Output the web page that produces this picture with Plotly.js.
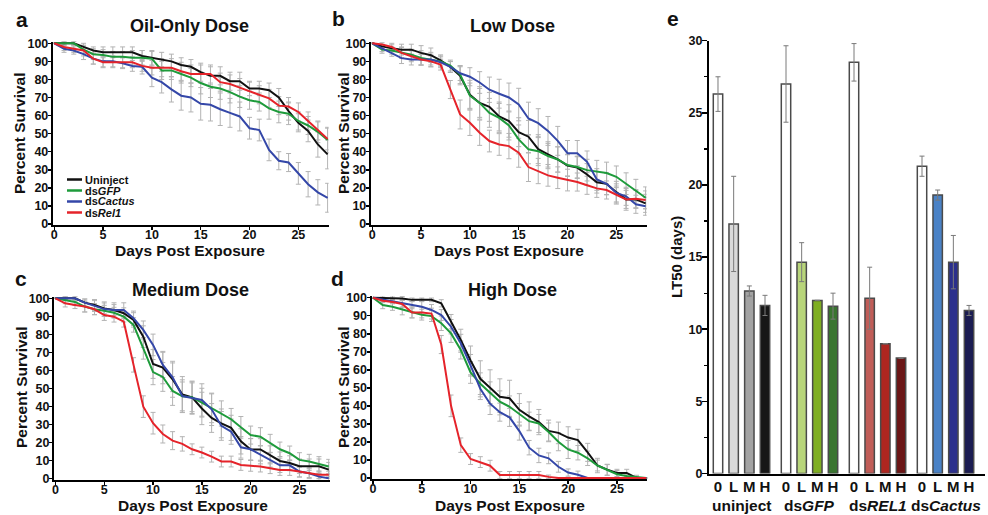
<!DOCTYPE html>
<html>
<head>
<meta charset="utf-8">
<script src="https://cdn.plot.ly/plotly-3.0.1.min.js"></script>
<style>html,body{margin:0;padding:0;background:#fff;}#chart{width:988px;height:515px;}</style>
</head>
<body>
<div id="chart"></div>
<script>
// ---------- DATA ----------
const days = [0,1,2,3,4,5,6,7,8,9,10,11,12,13,14,15,16,17,18,19,20,21,22,23,24,25,26,27,28];
const seriesNames = ['Uninject', 'ds<i>GFP</i>', 'ds<i>Cactus</i>', 'ds<i>Rel1</i>'];

// Panel a: Oil-Only Dose
const a_uninject = [100,100,100,98,96,95,95,95,95,93,92,91,90,88,87,84,82,82,79,79,75,75,74,70,62.5,56,51.5,44,38.5];
const a_gfp      = [100,100,100,96.5,94,93.5,92.5,92.5,92,92,91.5,85,85,83,81,78,76,75,73,70.5,68.5,67.5,64,62,61,57,54.5,51,46.5];
const a_cactus   = [100,97,96,94,91.5,90,90,89,87.5,87,81,78.5,74.5,71,70,66.5,66,63.5,61.5,59.5,53,52,41,35,34,28,22,17.5,14.5];
const a_rel1     = [100,98,97,96,91.5,89.5,89.5,89.5,89.5,87.5,86.5,86.5,86.5,84.5,83,83,83,78.5,77.5,75.5,73.5,71.5,69.5,65.5,65,62,57,51.5,47];
const a_err_uninject = [0,1,1,2,2,3,3,3,3,3,4,4,4,4,4,5,5,5,5,5,4,4,4,5,5,5,6,7,8];
const a_err_gfp      = [0,1,1,2,3,3,3,3,4,4,4,5,5,5,5,6,6,6,6,6,5,5,6,6,6,5,5,6,7];
const a_err_cactus   = [0,2,2,3,3,3,3,3,3,4,5,6,7,8,8,9,9,9,8,8,6,6,6,5,5,6,7,7,8];
const a_err_rel1     = [0,2,2,3,3,3,3,3,3,3,4,5,5,5,5,5,5,5,5,5,5,5,5,5,5,5,5,5,6];

// Panel b: Low Dose
const b_uninject = [100,98.3,97.2,96.5,96.5,94.7,93.4,90.6,86.9,82,71.5,67,64.8,59.5,57,50.8,48.3,41.4,38.5,35.7,32.3,31.2,27.4,23.1,22.2,17.6,13.6,13.6,11.4];
const b_gfp      = [100,96.5,96,95,93.7,91.9,91,90,87.7,82.7,71,67,61.5,58.7,54.5,46.8,41.3,40.3,37.6,35.7,32.6,31.5,29.8,29.2,28.2,26.1,22.3,18.7,14.5];
const b_cactus   = [100,97.4,94.8,91.8,91,91,91,89.5,86.9,83.4,81.5,78.3,74.3,72.1,70,66.1,58.4,55.8,51.5,46,39.2,39.2,34.4,24.6,22.2,17.2,15.3,10.9,9.8];
const b_rel1     = [100,99.3,98,94.7,92.8,91,90,88.2,74.4,60.6,56,50.5,45.9,44,43.1,39.4,31.5,29.3,26.9,25.6,24.3,23.2,21.4,19.7,18.8,16,13.6,14,13.3];
const b_err_uninject = [0,1,2,3,3,4,4,3,3,5,8,9,8,8,9,8,9,8,7,7,6,6,6,6,6,6,6,5,5];
const b_err_gfp      = [0,2,2,3,3,4,4,3,3,5,7,8,8,8,8,8,8,8,7,7,6,6,6,6,6,6,6,6,6];
const b_err_cactus   = [0,2,2,3,3,3,3,3,3,4,5,6,7,8,8,9,9,8,8,8,7,7,6,6,6,5,5,5,5];
const b_err_rel1     = [0,1,2,3,3,3,3,3,5,8,7,7,6,6,7,8,8,7,6,6,6,5,5,5,5,5,5,5,5];

// Panel c: Medium Dose
const c_uninject = [100,100,100,97.6,96.3,94.4,93.5,91.7,88,78.7,63.5,61.5,55,46.5,45,38.8,33.5,30.5,28,20.5,16,16,13,9.6,8.5,6.7,6.7,6.7,4.8];
const c_gfp      = [100,99,98,95.4,93.9,93.1,92,89.8,85.2,72.2,59,56.3,48.5,45.5,45,42,38.9,36,32.8,28.3,24,23.1,19.4,16.1,13.9,10.2,9.3,8,6.5];
const c_cactus   = [100,100,100,97.6,95.7,94,93.5,93.5,88.9,82.4,74.1,63,56.1,45.7,44.6,43.5,38.3,29.1,25.9,17.2,16.1,13,10.2,7.2,7.2,3.7,2.8,0.9,0];
const c_rel1     = [100,97.2,96.3,95.4,93.9,90.7,89.8,87,63,39.8,30.6,24.6,20.9,19.1,16.1,14.3,12,9.3,9.3,7.4,6.9,6.5,5.6,4.6,4.6,3.7,2.4,1.9,1.9];
const c_err_uninject = [0,1,1,2,3,3,3,3,4,6,8,9,10,10,9,9,8,8,7,7,6,6,5,5,4,4,4,4,4];
const c_err_gfp      = [0,2,2,3,3,3,3,3,4,6,7,8,8,8,8,8,8,7,6,6,5,5,5,4,4,4,4,4,4];
const c_err_cactus   = [0,1,1,2,3,4,4,4,4,5,6,7,8,9,9,9,9,8,7,6,6,5,4,4,3,3,3,2,2];
const c_err_rel1     = [0,2,2,3,3,3,3,3,4,6,6,5,5,4,3,3,3,3,3,3,3,3,3,3,3,3,2,2,2];

// Panel d: High Dose
const d_uninject = [100,100,100,99.6,98.8,98.8,98.8,96.9,86.7,76.5,65.2,55,50,45,44.2,37.8,34.2,31,26.1,25,22.4,21,14.2,6.9,4.6,2.8,2.8,0,0];
const d_gfp      = [100,95.9,95,93.5,91.8,90.6,89.8,85.8,80.2,71,58.5,52.3,47.3,42.3,39.5,35.3,31.5,30.2,25.5,20.1,15.8,14,10.9,6.9,4.4,2.1,1.1,0.5,0];
const d_cactus   = [100,99,98.3,96.9,95.9,95,93.2,90.4,83.9,74.7,62.5,49.5,41.2,36.5,33.6,26,16.8,12.5,10.9,6.2,3,1.8,0,0,0,0,0,0,0];
const d_rel1     = [100,98.3,97.6,96.5,91.8,91.8,91.2,74,40,18.2,10.5,8.8,6.8,1.6,1.6,1.6,1.6,1.6,0.6,0,0,0,0,0,0,0,0,0,0];
const d_err_uninject = [0,1,1,1,1,1,1,2,4,6,8,10,10,10,10,9,8,7,6,6,6,6,5,4,3,2,2,1,0];
const d_err_gfp      = [0,2,2,3,3,3,3,4,5,5,6,6,6,6,6,6,5,5,5,5,5,4,4,3,3,2,1,1,0];
const d_err_cactus   = [0,1,1,2,2,3,3,3,4,5,6,6,6,5,5,5,4,4,3,3,2,2,0,0,0,0,0,0,0];
const d_err_rel1     = [0,1,1,2,3,3,3,5,6,4,3,3,3,2,2,2,2,2,1,0,0,0,0,0,0,0,0,0,0];

// Panel e: LT50 (days)
const groups = ['uninject', 'ds<i>GFP</i>', 'ds<i>REL1</i>', 'ds<i>Cactus</i>'];
const doseLevels = ['0', 'L', 'M', 'H'];
const lt50_uninject = [26.3, 17.3, 12.65, 11.65];
const lt50_gfp      = [27.0, 14.65, 12.0, 11.6];
const lt50_rel1     = [28.5, 12.15, 9.0, 8.0];
const lt50_cactus   = [21.3, 19.3, 14.65, 11.3];
const lt50err_uninject = [1.2, 3.3, 0.35, 0.7];
const lt50err_gfp      = [2.65, 1.35, null, 0.9];
const lt50err_rel1     = [1.3, 2.15, null, null];
const lt50err_cactus   = [0.7, 0.35, 1.85, 0.35];

// ---------- STYLE ----------
const FONT = 'Liberation Sans, Arial, Helvetica, sans-serif';
const lineColors = ['#111111', '#1e9b3b', '#3447a8', '#e5232a'];
const errColor = '#b3b3b3';
const barColors = [
  ['#ffffff', '#d9d9d9', '#a3a3a3', '#161616'],
  ['#ffffff', '#b8d57a', '#7fae22', '#3a7530'],
  ['#ffffff', '#c05d58', '#ae2620', '#6b1616'],
  ['#ffffff', '#4a82c6', '#2b2f8c', '#1b1c52']
];

const panels = [
  {id: '', series: [a_uninject, a_gfp, a_cactus, a_rel1], errs: [a_err_uninject, a_err_gfp, a_err_cactus, a_err_rel1]},
  {id: '2', series: [b_uninject, b_gfp, b_cactus, b_rel1], errs: [b_err_uninject, b_err_gfp, b_err_cactus, b_err_rel1]},
  {id: '3', series: [c_uninject, c_gfp, c_cactus, c_rel1], errs: [c_err_uninject, c_err_gfp, c_err_cactus, c_err_rel1]},
  {id: '4', series: [d_uninject, d_gfp, d_cactus, d_rel1], errs: [d_err_uninject, d_err_gfp, d_err_cactus, d_err_rel1]}
];

const traces = [];
panels.forEach(p => {
  // error bars first (behind lines)
  p.series.forEach((s, k) => {
    traces.push({
      type: 'scatter', mode: 'markers', x: days, y: s,
      xaxis: 'x' + p.id, yaxis: 'y' + p.id, showlegend: false, hoverinfo: 'skip',
      marker: {size: 1, opacity: 0},
      error_y: {type: 'data', array: p.errs[k], visible: true, color: errColor, thickness: 1, width: 2.5}
    });
  });
  p.series.forEach((s, k) => {
    traces.push({
      type: 'scatter', mode: 'lines', x: days, y: s, name: seriesNames[k],
      xaxis: 'x' + p.id, yaxis: 'y' + p.id, showlegend: false,
      line: {color: lineColors[k], width: 2}
    });
  });
});

// Bars for panel e
const groupStep = 4.34;
const allLT = [lt50_uninject, lt50_gfp, lt50_rel1, lt50_cactus];
const allErr = [lt50err_uninject, lt50err_gfp, lt50err_rel1, lt50err_cactus];
const barX = [], barY = [], barE = [], barC = [], tickV = [], tickT = [];
allLT.forEach((vals, g) => {
  vals.forEach((v, i) => {
    const pos = g * groupStep + i;
    barX.push(pos); barY.push(v); barE.push(allErr[g][i]); barC.push(barColors[g][i]);
    tickV.push(pos); tickT.push(doseLevels[i]);
  });
});
traces.push({
  type: 'bar', x: barX, y: barY, xaxis: 'x5', yaxis: 'y5', width: 0.6, showlegend: false,
  marker: {color: barC, line: {color: '#4a4a4a', width: 1.5}},
  error_y: {type: 'data', array: barE, visible: true, color: '#7a7a7a', thickness: 1, width: 2.5}
});

// ---------- LAYOUT ----------
function px2x(p) { return p / 988; }
function px2y(p) { return 1 - p / 515; }

const tickFont = {family: FONT, size: 12.5, color: '#111', weight: 'bold'};
function survX(d0, d1) {
  return {domain: [px2x(d0), px2x(d1)], range: [-0.15, 28.1], tickvals: [0,5,10,15,20,25],
    showline: true, linecolor: '#000', linewidth: 2, ticks: 'outside', ticklen: 3, tickwidth: 1.5, tickcolor: '#000',
    ticklabelstandoff: -6,
    showgrid: false, zeroline: false, tickfont: tickFont, fixedrange: true};
}
function survY(t, b) {
  return {domain: [px2y(b), px2y(t)], range: [-0.8, 101], tickvals: [0,10,20,30,40,50,60,70,80,90,100],
    showline: true, linecolor: '#000', linewidth: 2, ticks: 'outside', ticklen: 3, tickwidth: 1.5, tickcolor: '#000',
    ticklabelstandoff: -3,
    showgrid: false, zeroline: false, tickfont: tickFont, fixedrange: true};
}

const layout = {
  width: 988, height: 515, margin: {l: 0, r: 0, t: 0, b: 0},
  paper_bgcolor: '#fff', plot_bgcolor: '#fff', showlegend: false,
  font: {family: FONT, color: '#111'},
  xaxis: survX(52.8, 328.6), yaxis: Object.assign(survY(41.5, 225.4), {anchor: 'x'}),
  xaxis2: Object.assign(survX(370.8, 646.6), {anchor: 'y2'}), yaxis2: Object.assign(survY(41.5, 225.4), {anchor: 'x2'}),
  xaxis3: Object.assign(survX(54.0, 329.7), {anchor: 'y3'}), yaxis3: Object.assign(survY(296.5, 479.7), {anchor: 'x3'}),
  xaxis4: Object.assign(survX(371.5, 647.2), {anchor: 'y4'}), yaxis4: Object.assign(survY(295.9, 479.4), {anchor: 'x4'}),
  xaxis5: {anchor: 'y5', domain: [px2x(709), px2x(985)], range: [-0.574, 17.04], tickvals: tickV, ticktext: tickT,
    showline: true, linecolor: '#000', linewidth: 2, ticks: '', showgrid: false, zeroline: false,
    ticklabelstandoff: -2,
    tickfont: {family: FONT, size: 15, color: '#111', weight: 'bold'}, fixedrange: true},
  yaxis5: {anchor: 'x5', domain: [px2y(473.5), px2y(40.7)], range: [0, 30], tickvals: [0,5,10,15,20,25,30],
    showline: true, linecolor: '#000', linewidth: 2, ticks: 'outside', ticklen: 5, tickwidth: 1.5, tickcolor: '#000',
    ticklabelstandoff: -3,
    minor: {tickvals: [2.5,7.5,12.5,17.5,22.5,27.5], ticks: 'outside', ticklen: 3, tickwidth: 1.2, tickcolor: '#000'},
    showgrid: false, zeroline: false, tickfont: tickFont, fixedrange: true},
  annotations: [],
  shapes: []
};

function ann(text, x, y, size, opts) {
  layout.annotations.push(Object.assign({
    text: text, x: px2x(x), y: px2y(y), xref: 'paper', yref: 'paper', showarrow: false,
    xanchor: 'center', yanchor: 'middle', font: {family: FONT, size: size, color: '#111', weight: 'bold'}
  }, opts || {}));
}

// panel letters
ann('a', 22, 19, 21); ann('b', 338, 18, 21); ann('c', 21, 278, 21); ann('d', 337, 278, 21); ann('e', 673, 18, 21);
// titles
ann('Oil-Only Dose', 189, 26, 18); ann('Low Dose', 512, 26, 18);
ann('Medium Dose', 190, 290, 18); ann('High Dose', 512, 290, 18);
// x titles
ann('Days Post Exposure', 190, 250, 15.5); ann('Days Post Exposure', 509, 250, 15.5);
ann('Days Post Exposure', 193, 505, 15.5); ann('Days Post Exposure', 510, 505, 15.5);
// y titles
ann('Percent Survival', 19, 134, 15.5, {textangle: -90}); ann('Percent Survival', 343, 134, 15.5, {textangle: -90});
ann('Percent Survival', 21, 388, 15.5, {textangle: -90}); ann('Percent Survival', 343, 388, 15.5, {textangle: -90});
ann('LT50 (days)', 676, 257, 15, {textangle: -90});
// group labels panel e
const groupCentersPx = [741.5, 809.5, 877.5, 945.5];
groups.forEach((g, i) => ann(g, groupCentersPx[i], 505, 15.5));

// legend panel a (manual, compact)
const legY = [179.5, 190.5, 201.5, 212.5];
seriesNames.forEach((n, k) => {
  layout.shapes.push({type: 'line', xref: 'paper', yref: 'paper', x0: px2x(67), x1: px2x(82), y0: px2y(legY[k]), y1: px2y(legY[k]),
    line: {color: lineColors[k], width: 2.5}});
  ann(n, 83.5, legY[k], 11, {xanchor: 'left', borderpad: 0});
});

Plotly.newPlot('chart', traces, layout, {staticPlot: true, displayModeBar: false});
</script>
</body>
</html>
